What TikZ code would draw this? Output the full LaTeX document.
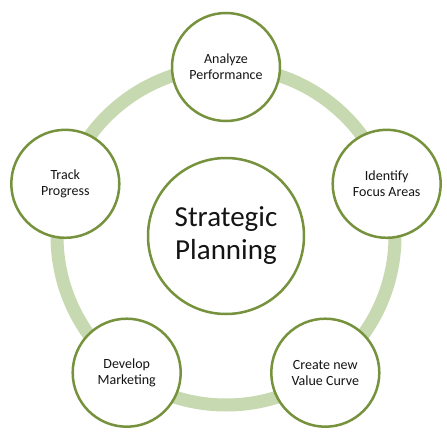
\documentclass[tikz,border=0pt]{standalone}
\usepackage{fontspec}
\setmainfont{Carlito}
\definecolor{ringgreen}{RGB}{199,217,176}
\definecolor{edgegreen}{RGB}{118,146,60}
\definecolor{txt}{RGB}{20,20,20}
\begin{document}
\begin{tikzpicture}[x=1pt,y=-1pt,
  stage/.style={circle, draw=edgegreen, line width=2.5pt, fill=white,
    minimum size=108pt, inner sep=0pt, align=center, text=txt,
    font=\fontsize{14}{16}\selectfont},
  hub/.style={stage, minimum size=156pt, font=\fontsize{29}{33}\selectfont},
  ring/.style={draw=ringgreen, line width=13pt}]
\useasboundingbox[fill=white] (0,0) rectangle (447,447);
\coordinate (c) at (226,236);
\draw[ring] (c) circle[radius=169pt];
\node[hub] (hubnode) at (c) {Strategic\\Planning};
\node[stage] (analyze) at (226,67) {Analyze\\Performance};
\node[stage] (identify) at (386.7,183.8) {Identify\\Focus Areas};
\node[stage] (create) at (325.3,372.7) {Create new\\Value Curve};
\node[stage] (develop) at (126.7,372.7) {Develop\\Marketing};
\node[stage] (track) at (65.3,183.8) {Track\\Progress};
\end{tikzpicture}
\end{document}
